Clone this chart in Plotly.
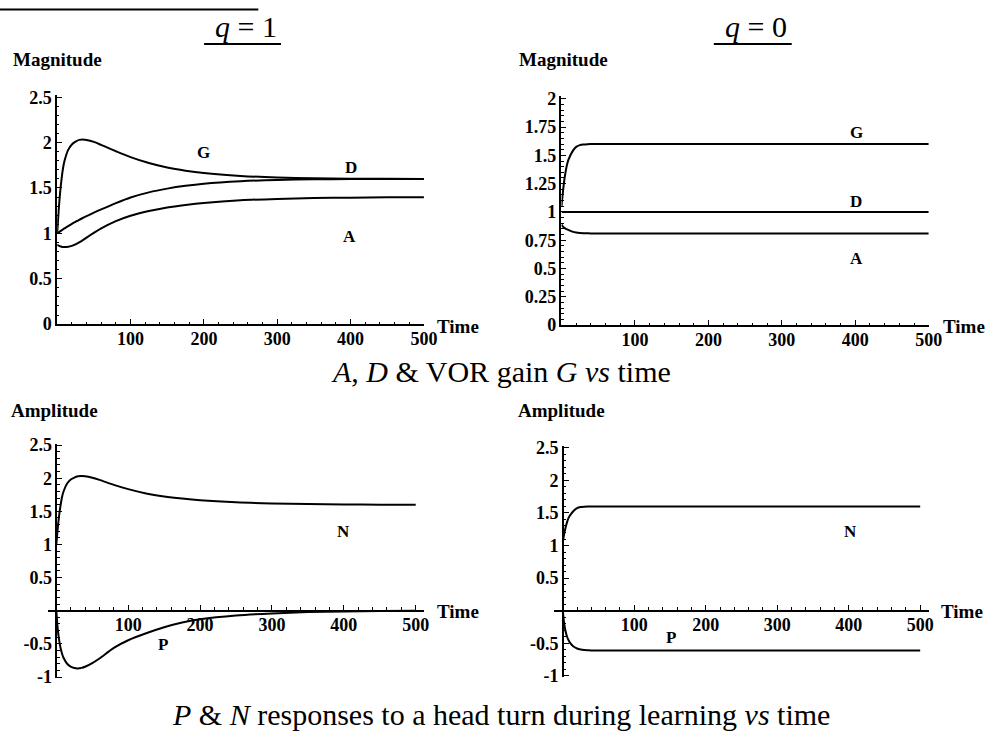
import plotly.graph_objects as go

# ---------------- data ----------------
time = [0, 2, 4, 6, 8, 10, 15, 20, 25, 30, 35, 40, 50, 60, 80, 100, 125, 150,
        175, 200, 250, 300, 350, 400, 450, 500]

# q = 1 : A, D & VOR gain G
g_q1 = [1.0, 1.25, 1.45, 1.6, 1.72, 1.8, 1.92, 1.98, 2.01, 2.03, 2.035, 2.03, 2.008,
        1.975, 1.905, 1.84, 1.775, 1.725, 1.69, 1.664, 1.633, 1.616, 1.607, 1.603,
        1.601, 1.6]
d_q1 = [1.0, 1.011, 1.022, 1.033, 1.044, 1.055, 1.08, 1.105, 1.128, 1.15, 1.17,
        1.19, 1.228, 1.264, 1.333, 1.395, 1.452, 1.493, 1.524, 1.547, 1.574, 1.589,
        1.596, 1.599, 1.6, 1.6]
a_q1 = [0.875, 0.865, 0.858, 0.853, 0.85, 0.849, 0.852, 0.862, 0.878, 0.9, 0.925,
        0.953, 1.005, 1.055, 1.135, 1.194, 1.246, 1.286, 1.314, 1.336, 1.365, 1.38,
        1.389, 1.394, 1.397, 1.398]

# q = 0 : A, D & VOR gain G
g_q0 = [1.05, 1.18, 1.29, 1.37, 1.43, 1.47, 1.535, 1.575, 1.59, 1.596, 1.599, 1.6,
        1.6, 1.6, 1.6, 1.6, 1.6, 1.6, 1.6, 1.6, 1.6, 1.6, 1.6, 1.6, 1.6, 1.6]
d_q0 = [1.0] * len(time)
a_q0 = [0.89, 0.87, 0.86, 0.85, 0.845, 0.84, 0.826, 0.818, 0.814, 0.812, 0.811,
        0.81, 0.81, 0.81, 0.81, 0.81, 0.81, 0.81, 0.81, 0.81, 0.81, 0.81, 0.81,
        0.81, 0.81, 0.81]

# q = 1 : P & N responses
n_q1 = [1.0, 1.25, 1.45, 1.6, 1.72, 1.8, 1.92, 1.98, 2.01, 2.03, 2.035, 2.03, 2.008,
        1.975, 1.9, 1.835, 1.77, 1.725, 1.693, 1.668, 1.637, 1.62, 1.61, 1.604,
        1.601, 1.6]
p_q1 = [0.0, -0.28, -0.45, -0.57, -0.65, -0.71, -0.8, -0.845, -0.865, -0.87, -0.862,
        -0.845, -0.79, -0.72, -0.56, -0.445, -0.34, -0.25, -0.178, -0.13, -0.072,
        -0.04, -0.02, -0.01, -0.004, 0.0]

# q = 0 : P & N responses
n_q0 = [1.05, 1.18, 1.28, 1.36, 1.42, 1.46, 1.53, 1.575, 1.59, 1.596, 1.599, 1.6,
        1.6, 1.6, 1.6, 1.6, 1.6, 1.6, 1.6, 1.6, 1.6, 1.6, 1.6, 1.6, 1.6, 1.6]
p_q0 = [0.0, -0.2, -0.32, -0.4, -0.45, -0.49, -0.55, -0.58, -0.595, -0.603, -0.607,
        -0.61, -0.61, -0.61, -0.61, -0.61, -0.61, -0.61, -0.61, -0.61, -0.61,
        -0.61, -0.61, -0.61, -0.61, -0.61]

x_ticks = [100, 200, 300, 400, 500]
y_ticks_top_left = [0, 0.5, 1, 1.5, 2, 2.5]
y_ticks_top_right = [0, 0.25, 0.5, 0.75, 1, 1.25, 1.5, 1.75, 2]
y_ticks_bottom = [-1, -0.5, 0.5, 1, 1.5, 2, 2.5]

# ---------------- layout helpers ----------------
W, H = 996, 742


def fx(p):
    return p / W


def fy(p):
    return 1 - p / H


def fmt(v):
    return "%g" % v


SERIF = "Liberation Serif"
tick_font = dict(family=SERIF, size=18, color="black", weight="bold")
LINE = dict(color="black", width=2, shape="spline", smoothing=0.8)

fig = go.Figure()

panels = [
    ("x", "y", [(g_q1, "G"), (d_q1, "D"), (a_q1, "A")]),
    ("x2", "y2", [(g_q0, "G"), (d_q0, "D"), (a_q0, "A")]),
    ("x3", "y3", [(n_q1, "N"), (p_q1, "P")]),
    ("x4", "y4", [(n_q0, "N"), (p_q0, "P")]),
]
for xa, ya, series in panels:
    for vals, name in series:
        fig.add_trace(go.Scatter(x=time, y=vals, xaxis=xa, yaxis=ya, mode="lines",
                                 line=LINE, name=name, showlegend=False,
                                 hoverinfo="skip"))


def xaxis_cfg(domain, rng, anchor, position=None):
    d = dict(domain=domain, range=rng, showline=True, linecolor="black",
             linewidth=1.5, showgrid=False, zeroline=False,
             tickvals=x_ticks, ticktext=[fmt(v) for v in x_ticks],
             ticks="inside", ticklen=5, tickwidth=1.2, tickcolor="black",
             tickfont=tick_font, fixedrange=True, ticklabelstandoff=-2,
             minor=dict(dtick=20, tick0=0, ticks="inside", ticklen=2.5,
                        tickwidth=1, tickcolor="black", showgrid=False))
    if position is None:
        d["anchor"] = anchor
    else:
        d["anchor"] = "free"
        d["position"] = position
    return d


def yaxis_cfg(domain, rng, ticks, minor_dt, anchor, position=None):
    d = dict(domain=domain, range=rng, showline=True, linecolor="black",
             linewidth=1.5, showgrid=False, zeroline=False,
             tickvals=ticks, ticktext=[fmt(v) for v in ticks],
             ticks="inside", ticklen=5, tickwidth=1.2, tickcolor="black",
             tickfont=tick_font, fixedrange=True,
             minor=dict(dtick=minor_dt, tick0=0, ticks="inside", ticklen=2.5,
                        tickwidth=1, tickcolor="black", showgrid=False))
    if position is None:
        d["anchor"] = anchor
    else:
        d["anchor"] = "free"
        d["position"] = position
    return d


fig.update_layout(
    width=W, height=H,
    margin=dict(l=0, r=0, t=0, b=0),
    paper_bgcolor="white", plot_bgcolor="white",
    showlegend=False,
    xaxis=xaxis_cfg([fx(58), fx(430)], [0, 500], "y"),
    yaxis=yaxis_cfg([fy(324), fy(89.6)], [0, 2.52], y_ticks_top_left, 0.1, "x"),
    xaxis2=xaxis_cfg([fx(569.5), fx(942)], [0, 500], "y2"),
    yaxis2=yaxis_cfg([fy(325), fy(90.7)], [0, 2.02], y_ticks_top_right, 0.05, "x2"),
    xaxis3=xaxis_cfg([fx(48.4), fx(430.4)], [-12, 512], None, position=fy(617.7)),
    yaxis3=yaxis_cfg([fy(687), fy(446.6)], [-1.02, 2.52], y_ticks_bottom, 0.1,
                     None, position=fx(57.1)),
    xaxis4=xaxis_cfg([fx(562.1), fx(942)], [-12, 512], None, position=fy(617.7)),
    yaxis4=yaxis_cfg([fy(685.8), fy(449.4)], [-1.02, 2.52], y_ticks_bottom, 0.1,
                     None, position=fx(570.8)),
)

ann = []
label_font = dict(family=SERIF, size=17, color="black", weight="bold")


def lab(text, x, y, xr, yr):
    ann.append(dict(text=text, x=x, y=y, xref=xr, yref=yr, showarrow=False,
                    font=label_font, xanchor="center", yanchor="middle"))


# curve labels (data coordinates)
lab("G", 199, 1.89, "x", "y")
lab("D", 400, 1.73, "x", "y")
lab("A", 398, 0.97, "x", "y")
lab("G", 401, 1.70, "x2", "y2")
lab("D", 401, 1.095, "x2", "y2")
lab("A", 401, 0.586, "x2", "y2")
lab("N", 399, 1.19, "x3", "y3")
lab("P", 149, -0.505, "x3", "y3")
lab("N", 402, 1.21, "x4", "y4")
lab("P", 151, -0.41, "x4", "y4")


def ptext(text, x, y, size, xanchor="left", bold=True):
    f = dict(family=SERIF, size=size, color="black")
    if bold:
        f["weight"] = "bold"
    ann.append(dict(text=text, x=fx(x), y=fy(y), xref="paper", yref="paper",
                    showarrow=False, font=f, xanchor=xanchor, yanchor="middle"))


ptext("Magnitude", 11, 53, 19)
ptext("Magnitude", 524, 53, 19)
ptext("Amplitude", 9, 412, 19)
ptext("Amplitude", 523, 412, 19)
ptext("Time", 441, 326, 19)
ptext("Time", 954, 326, 19)
ptext("Time", 441, 619, 19)
ptext("Time", 952, 619, 19)

ptext("<i>q</i> = 1", 249, 19, 30, xanchor="center", bold=False)
ptext("<i>q</i> = 0", 767, 19, 30, xanchor="center", bold=False)
ptext("<i>A</i>, <i>D</i> &amp; VOR gain <i>G</i> <i>vs</i> time", 508, 373, 30,
      xanchor="center", bold=False)
ptext("<i>P</i> &amp; <i>N</i> responses to a head turn during learning <i>vs</i> time",
      508, 724, 30, xanchor="center", bold=False)

fig.update_layout(annotations=ann)

shapes = []
for x0, x1, y in [(0, 262, 1.5), (207, 285, 37), (724, 803, 37)]:
    shapes.append(dict(type="line", xref="paper", yref="paper",
                       x0=fx(x0), x1=fx(x1), y0=fy(y), y1=fy(y),
                       line=dict(color="black", width=2)))
fig.update_layout(shapes=shapes)

page_css = ("var s=document.createElement('style');"
            "s.textContent='html,body{margin:0;padding:0;overflow:hidden;}';"
            "document.head.appendChild(s);")

fig.write_html("out.html", config={"displayModeBar": False},
               post_script=page_css)
